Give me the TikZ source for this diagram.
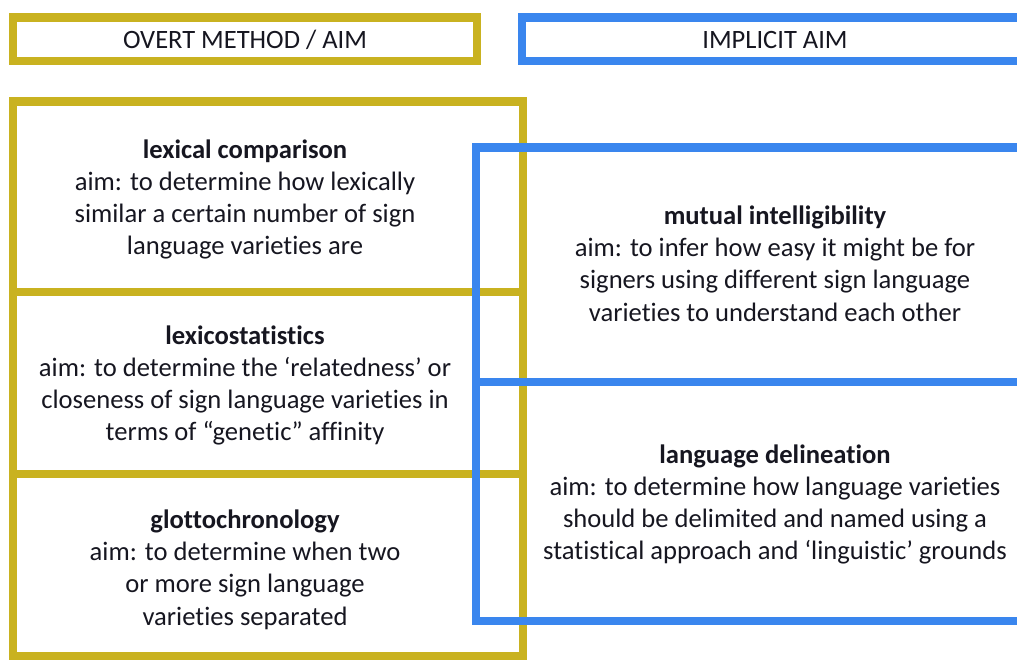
\documentclass[tikz,border=0pt]{standalone}
\usepackage{fontspec}
\setmainfont{Carlito}[Ligatures=NoCommon]
\definecolor{ochre}{RGB}{201,178,32}
\definecolor{azure}{RGB}{58,134,238}
\definecolor{ink}{RGB}{22,22,32}

\begin{document}
\begin{tikzpicture}[x=1pt,y=-1pt,
  frame/.style={line width=8.5pt, line join=miter, inner sep=0pt, outer sep=0pt, anchor=north west},
  ochreframe/.style={frame, draw=ochre},
  azureframe/.style={frame, draw=azure},
  lbl/.style={font=\fontsize{26.6}{32.3}\selectfont, text=ink, align=center, inner sep=0pt},
  head/.style={lbl, font=\fontsize{26.5}{30}\selectfont},
]
\useasboundingbox (0,0) rectangle (1017,660);
\clip (0,0) rectangle (1017,660);

% left column: method frames
\node[ochreframe, minimum width=464pt, minimum height=43.5pt] (overtbox) at (13,17.5) {};
\node[ochreframe, minimum width=510pt, minimum height=190.5pt] (cellA) at (13,101.5) {};
\node[ochreframe, minimum width=510pt, minimum height=182pt] (cellB) at (13,292) {};
\node[ochreframe, minimum width=510pt, minimum height=182pt] (cellC) at (13,474) {};

% right column: aim frames, open to the right
\node[azureframe, minimum width=600pt, minimum height=43.5pt] (implbox) at (522,17.5) {};
\node[azureframe, minimum width=600pt, minimum height=234.5pt] (cellD) at (476,147.5) {};
\node[azureframe, minimum width=600pt, minimum height=239pt] (cellE) at (476,382) {};

% headings
\node[head] (overt) at (245,40) {OVERT METHOD / AIM};
\node[head] (impl) at (775,40) {IMPLICIT AIM};

% method texts
\node[lbl] (lexcomp) at (245,199.5) {\textbf{lexical comparison}\\aim: to determine how lexically\\similar a certain number of sign\\language varieties are};
\node[lbl] (lexstat) at (245,385.5) {\textbf{lexicostatistics}\\aim: to determine the ‘relatedness’ or\\closeness of sign language varieties in\\terms of “genetic” affinity};
\node[lbl] (glotto) at (245,569.5) {\textbf{glottochronology}\\aim: to determine when two\\or more sign language\\varieties separated};

% implicit aims
\node[lbl] (mutual) at (775,263.5) {\textbf{mutual intelligibility}\\aim: to infer how easy it might be for\\signers using different sign language\\varieties to understand each other};
\node[lbl] (delin) at (775,504.5) {\textbf{language delineation}\\aim: to determine how language varieties\\should be delimited and named using a\\statistical approach and ‘linguistic’ grounds};
\end{tikzpicture}
\end{document}
